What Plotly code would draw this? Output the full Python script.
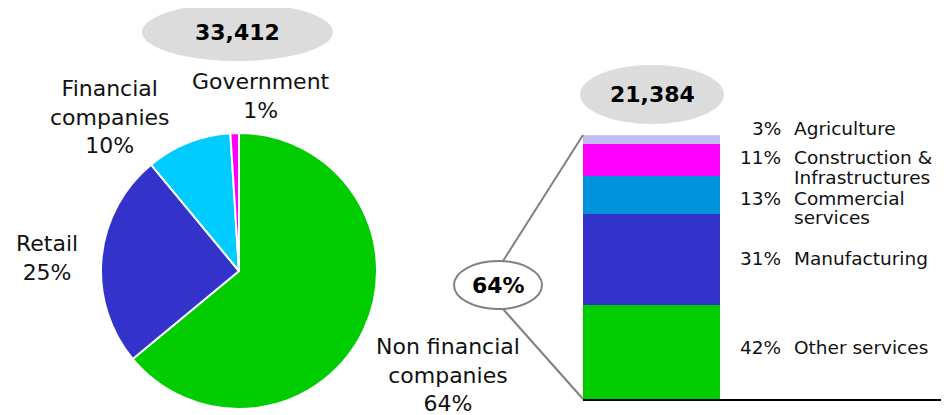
import plotly.graph_objects as go

# --- data -------------------------------------------------------------
pie_labels = ["Non financial companies", "Retail", "Financial companies", "Government"]
pie_text = ["Non financial<br>companies", "Retail", "Financial<br>companies", "Government"]
pie_values = [64, 25, 10, 1]
pie_colors = ["#00CC00", "#3333CC", "#00CCFF", "#FF00FF"]
pie_total = "33,412"

sectors = ["Other services", "Manufacturing", "Commercial services",
           "Construction & Infrastructures", "Agriculture"]
sector_lines = [["Other services"], ["Manufacturing"], ["Commercial", "services"],
                ["Construction &", "Infrastructures"], ["Agriculture"]]
sector_values = [42, 31, 13, 11, 3]
sector_colors = ["#00CC00", "#3333CC", "#0092DA", "#FF00FF", "#C0BEEE"]
bar_total = "21,384"
bar_share = "64%"

OFF = 8  # page body margin
W, H = 949 - OFF, 415 - OFF
FONT = "DejaVu Sans"


def px(x, y):
    """pixel position in the screenshot -> paper coords"""
    return (x - OFF) / W, (H - (y - OFF)) / H


fig = go.Figure()

# pie: circle centred ~ (239, 271), radius ~138 px
x0, y0 = px(101, 409)
x1, y1 = px(377, 133)
fig.add_trace(go.Pie(
    labels=pie_labels, values=pie_values, sort=False, direction="clockwise",
    rotation=0, textinfo="none", hoverinfo="label+percent",
    marker=dict(colors=pie_colors, line=dict(color="white", width=2)),
    domain=dict(x=[x0, x1], y=[max(y0, 0), y1]), showlegend=False,
))

# stacked bar
for name, val, col in zip(sectors, sector_values, sector_colors):
    fig.add_trace(go.Bar(
        x=[0], y=[val], width=1, name=name, marker=dict(color=col, line_width=0),
        showlegend=False, hovertemplate=f"{name}: {val}%<extra></extra>",
    ))

bx0, by0 = px(583, 399)
_, by1 = px(0, 135.3)
fig.update_layout(
    width=W, height=H, barmode="stack",
    margin=dict(l=0, r=0, t=0, b=0),
    paper_bgcolor="white", plot_bgcolor="white",
    font=dict(family=FONT, color="black"),
    xaxis=dict(domain=[bx0, 1], range=[-0.5, 2.17], visible=True,
               showticklabels=False, showgrid=False, zeroline=False,
               showline=True, linecolor="black", linewidth=2, ticks=""),
    yaxis=dict(domain=[by0, by1], range=[10, 100], visible=False),
)

# pie labels
pie_pos = [(448, 375), (47, 258), (110, 117), (261, 96)]
total = sum(pie_values)
for txt, v, (lx, ly) in zip(pie_text, pie_values, pie_pos):
    ax, ay = px(lx, ly)
    fig.add_annotation(x=ax, y=ay, xref="paper", yref="paper", showarrow=False,
                       text=f"{txt}<br>{round(100 * v / total)}%", align="center",
                       xanchor="center", yanchor="middle", borderpad=0,
                       font=dict(size=22, family=FONT, color="#111"))

# bar labels
label_px = [347, 259, 198, 157, 129]
line_gap = 20
for lines, v, ly in zip(sector_lines, sector_values, label_px):
    ax, ay = px(783, ly)
    fig.add_annotation(x=ax, y=ay, xref="paper", yref="paper", showarrow=False,
                       text=f"{v}%", xanchor="right", yanchor="middle",
                       font=dict(size=18.5, family=FONT, color="#111"))
    for i, ln in enumerate(lines):
        ax, ay = px(792, ly + i * line_gap)
        fig.add_annotation(x=ax, y=ay, xref="paper", yref="paper", showarrow=False,
                           text=ln, xanchor="left", yanchor="middle",
                           font=dict(size=18.5, family=FONT, color="#111"))

# connector lines from the 64% bubble to the bar
for (ax0, ay0), (ax1, ay1) in [((503, 261), (583, 135)), ((503, 309), (583, 399))]:
    p0, p1 = px(ax0, ay0), px(ax1, ay1)
    fig.add_shape(type="line", xref="paper", yref="paper",
                  x0=p0[0], y0=p0[1], x1=p1[0], y1=p1[1],
                  line=dict(color="#808080", width=2))

# bubbles
bubbles = [
    ((142, 3, 333, 61), pie_total, "#DCDCDC", None),
    ((580, 65, 724, 124), bar_total, "#DCDCDC", None),
    ((454, 261, 542, 309), bar_share, "white", "#808080"),
]
for (l, t, r, b), txt, fill, edge in bubbles:
    p0, p1 = px(l, b), px(r, t)
    fig.add_shape(type="circle", xref="paper", yref="paper",
                  x0=p0[0], y0=p0[1], x1=p1[0], y1=p1[1], fillcolor=fill,
                  line=dict(color=edge or fill, width=2 if edge else 0))
    cx, cy = px((l + r) / 2, (t + b) / 2)
    fig.add_annotation(x=cx, y=cy, xref="paper", yref="paper", showarrow=False,
                       text=f"<b>{txt}</b>", xanchor="center", yanchor="middle",
                       font=dict(size=22, family=FONT, color="black"))

fig.write_html("out.html")
